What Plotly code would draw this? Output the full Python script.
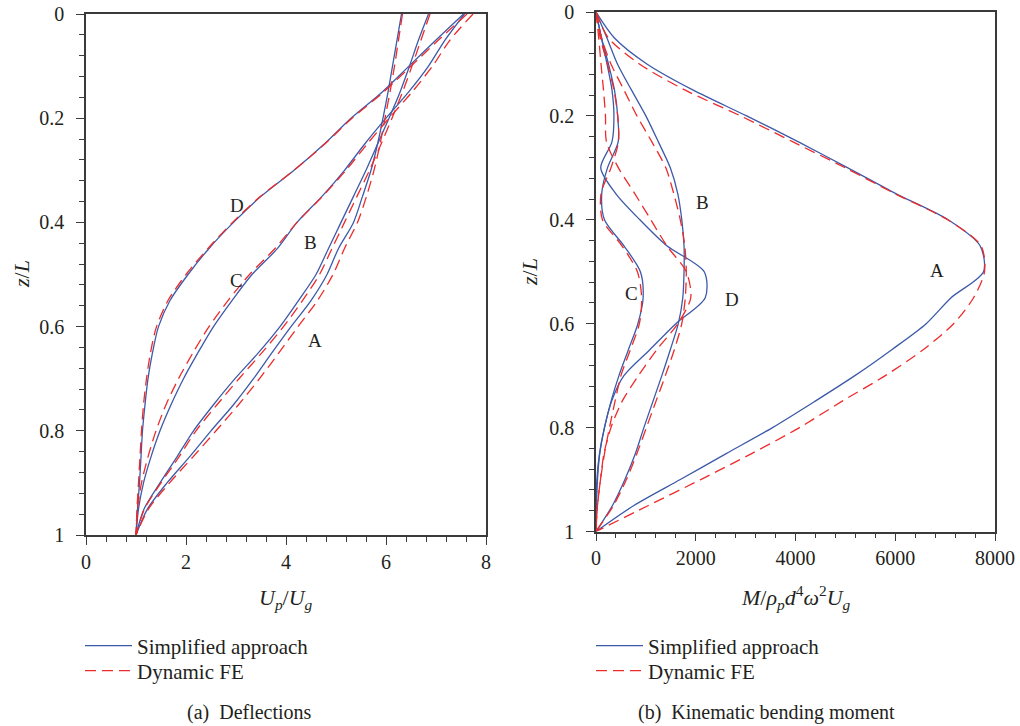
import plotly.graph_objects as go

# ---------------- data ----------------
z = [0.0, 0.05, 0.1, 0.15, 0.2, 0.25, 0.3, 0.35, 0.4, 0.45, 0.5,
     0.55, 0.6, 0.65, 0.7, 0.75, 0.8, 0.85, 0.9, 0.95, 1.0]

# (a) Deflections Up/Ug
defl_A_simplified = [6.31, 6.22, 6.13, 6.04, 5.94, 5.83, 5.70, 5.53, 5.35, 5.05, 4.82,
                     4.50, 4.10, 3.72, 3.35, 2.95, 2.50, 2.07, 1.62, 1.23, 1.00]
defl_A_fe = [6.33, 6.25, 6.17, 6.08, 5.98, 5.88, 5.76, 5.61, 5.43, 5.17, 4.94,
             4.63, 4.24, 3.86, 3.47, 3.05, 2.60, 2.14, 1.67, 1.25, 1.00]
defl_B_simplified = [6.85, 6.65, 6.47, 6.28, 6.06, 5.83, 5.60, 5.35, 5.10, 4.85, 4.60,
                     4.25, 3.88, 3.45, 2.98, 2.55, 2.15, 1.82, 1.48, 1.16, 1.00]
defl_B_fe = [6.88, 6.70, 6.52, 6.33, 6.12, 5.90, 5.67, 5.42, 5.17, 4.92, 4.67,
             4.33, 3.95, 3.52, 3.06, 2.62, 2.20, 1.86, 1.50, 1.17, 1.00]
defl_C_simplified = [7.57, 7.18, 6.85, 6.45, 6.00, 5.57, 5.17, 4.72, 4.22, 3.83, 3.32,
                     2.92, 2.55, 2.24, 1.95, 1.70, 1.48, 1.30, 1.15, 1.05, 1.00]
defl_C_fe = [7.74, 7.28, 6.93, 6.52, 6.06, 5.62, 5.20, 4.73, 4.22, 3.78, 3.27,
             2.84, 2.46, 2.14, 1.85, 1.60, 1.40, 1.24, 1.11, 1.03, 1.00]
defl_D_simplified = [7.55, 7.00, 6.46, 5.92, 5.30, 4.76, 4.16, 3.50, 2.95, 2.46, 2.04,
                     1.68, 1.45, 1.33, 1.24, 1.18, 1.13, 1.10, 1.07, 1.03, 1.00]
defl_D_fe = [7.62, 7.05, 6.50, 5.95, 5.32, 4.77, 4.16, 3.49, 2.93, 2.44, 2.00,
             1.64, 1.41, 1.29, 1.21, 1.15, 1.11, 1.08, 1.05, 1.02, 1.00]

# (b) Kinematic bending moment
mom_A_simplified = [0, 370, 1020, 1940, 3020, 4060, 5050, 6020, 7060, 7700, 7770,
                    7120, 6620, 5930, 5190, 4380, 3540, 2610, 1690, 760, 0]
mom_A_fe = [0, 250, 870, 1780, 2900, 3950, 5000, 6000, 7050, 7720, 7790,
            7570, 7170, 6560, 5800, 4920, 4080, 3120, 2100, 1050, 0]
mom_B_simplified = [0, 220, 430, 710, 1000, 1250, 1490, 1640, 1720, 1765, 1765,
                    1740, 1650, 1490, 1320, 1140, 960, 790, 580, 330, 0]
mom_B_fe = [0, 110, 300, 560, 820, 1120, 1400, 1560, 1690, 1780, 1810,
            1790, 1720, 1570, 1390, 1200, 1010, 820, 610, 350, 0]
mom_C_simplified = [0, 110, 250, 370, 435, 445, 230, 115, 170, 560, 890,
                    945, 840, 650, 460, 300, 170, 75, 30, 10, 0]
mom_C_fe = [0, 85, 230, 360, 435, 450, 300, 100, 130, 520, 830,
            915, 870, 690, 500, 380, 270, 170, 90, 30, 0]
mom_D_simplified = [0, 110, 220, 320, 360, 320, 95, 400, 880, 1420, 2170,
                    2190, 1600, 1080, 560, 310, 170, 70, 18, 5, 0]
mom_D_fe = [0, 55, 100, 150, 190, 210, 450, 780, 1100, 1420, 1810,
            1900, 1640, 1220, 850, 520, 300, 160, 90, 30, 0]

curve_labels = ["A", "B", "C", "D"]
defl_label_pos = [(4.58, 0.626), (4.48, 0.439), (3.01, 0.511), (3.01, 0.367)]
mom_label_pos = [(6830, 0.497), (2145, 0.366), (716, 0.541), (2720, 0.554)]

legend_names = ["Simplified approach", "Dynamic FE"]
captions = ["(a)  Deflections", "(b)  Kinematic bending moment"]

# ---------------- styling ----------------
W, H = 1020, 726
BLUE = "#3d5aa8"
RED = "#ee2b2b"
TXT = "#231f20"
SERIF = "Liberation Serif"
DASH = "11px,6px"

fig = go.Figure()

defl_sim = [defl_A_simplified, defl_B_simplified, defl_C_simplified, defl_D_simplified]
defl_fe = [defl_A_fe, defl_B_fe, defl_C_fe, defl_D_fe]
mom_sim = [mom_A_simplified, mom_B_simplified, mom_C_simplified, mom_D_simplified]
mom_fe = [mom_A_fe, mom_B_fe, mom_C_fe, mom_D_fe]

def add_set(sims, fes, xa, ya, leg_sim, leg_fe):
    for i, s in enumerate(sims):
        fig.add_trace(go.Scatter(
            x=s, y=z, mode="lines", xaxis=xa, yaxis=ya,
            line=dict(color=BLUE, width=1.3, shape="spline", smoothing=0.8),
            name=legend_names[0], legend=leg_sim, legendgroup=leg_sim,
            showlegend=(i == 0)))
    for i, f in enumerate(fes):
        fig.add_trace(go.Scatter(
            x=f, y=z, mode="lines", xaxis=xa, yaxis=ya,
            line=dict(color=RED, width=1.3, dash=DASH, shape="spline", smoothing=0.8),
            name=legend_names[1], legend=leg_fe, legendgroup=leg_fe,
            showlegend=(i == 0)))

add_set(defl_sim, defl_fe, "x", "y", "legend", "legend2")
add_set(mom_sim, mom_fe, "x2", "y2", "legend3", "legend4")

AXC = "#3a3a3a"

def xax(domain, rng, dtick, minor, anchor, fmt=None):
    d = dict(domain=domain, range=rng, dtick=dtick, tick0=0, anchor=anchor,
             showline=True, linecolor=AXC, linewidth=1.5, mirror=True,
             ticks="outside", ticklen=8, tickwidth=1.3, tickcolor=AXC,
             minor=dict(dtick=minor, tick0=0, ticks="outside", ticklen=5,
                        tickwidth=1.2, tickcolor=AXC, showgrid=False),
             showgrid=False, zeroline=False,
             tickfont=dict(family=SERIF, size=20, color=TXT),
             ticklabelstandoff=0, automargin=False, fixedrange=True)
    if fmt:
        d["tickformat"] = fmt
    return d

def yax(domain, anchor):
    return dict(domain=domain, range=[1, 0], dtick=0.2, tick0=0, anchor=anchor,
                showline=True, linecolor=AXC, linewidth=1.5, mirror=True,
                ticks="outside", ticklen=8, tickwidth=1.3, tickcolor=AXC,
                minor=dict(dtick=0.04, tick0=0, ticks="outside", ticklen=5,
                           tickwidth=1.2, tickcolor=AXC, showgrid=False),
                showgrid=False, zeroline=False,
                tickfont=dict(family=SERIF, size=20, color=TXT),
                ticklabelstandoff=8, automargin=False, fixedrange=True)

def leg(x_px, y_px):
    return dict(x=x_px / W, y=1 - y_px / H, xanchor="left", yanchor="middle",
                font=dict(family=SERIF, size=21, color=TXT),
                bgcolor="rgba(0,0,0,0)", tracegroupgap=0, itemwidth=47,
                borderwidth=0)

fig.update_layout(
    width=W, height=H, margin=dict(l=0, r=0, t=0, b=0),
    paper_bgcolor="white", plot_bgcolor="white",
    xaxis=xax([86 / W, 486 / W], [0, 8], 2, 0.4, "y"),
    yaxis=yax([1 - 535 / H, 1 - 14 / H], "x"),
    xaxis2=xax([596 / W, 995 / W], [0, 8000], 2000, 400, "y2", "d"),
    yaxis2=yax([1 - 531.5 / H, 1 - 12 / H], "x2"),
    legend=leg(80, 646),
    legend2=leg(80, 671),
    legend3=leg(591, 646),
    legend4=leg(591, 671),
    showlegend=True,
)

ann = []
for lab, (x, y) in zip(curve_labels, defl_label_pos):
    ann.append(dict(x=x, y=y, xref="x", yref="y", text=lab, showarrow=False,
                    xanchor="center", yanchor="middle",
                    font=dict(family=SERIF, size=19, color=TXT)))
for lab, (x, y) in zip(curve_labels, mom_label_pos):
    ann.append(dict(x=x, y=y, xref="x2", yref="y2", text=lab, showarrow=False,
                    xanchor="center", yanchor="middle",
                    font=dict(family=SERIF, size=19, color=TXT)))

title_font = dict(family=SERIF, size=22, color=TXT)

def paper_text(x_px, y_px, text, font, angle=0):
    return dict(x=x_px / W, y=1 - y_px / H, xref="paper", yref="paper",
                text=text, showarrow=False, xanchor="center", yanchor="middle",
                textangle=angle, font=font)

ann.append(paper_text(286, 599, "<i>U<sub>p</sub></i>/<i>U<sub>g</sub></i>", title_font))
ann.append(paper_text(796, 597,
                      "<i>M</i>/<i>ρ<sub>p</sub>d</i><sup>4</sup><i>ω</i><sup>2</sup><i>U<sub>g</sub></i>",
                      title_font))
ann.append(paper_text(22, 274, "<i>z</i>/<i>L</i>", title_font, -90))
ann.append(paper_text(529, 272, "<i>z</i>/<i>L</i>", title_font, -90))
cap_font = dict(family=SERIF, size=20, color=TXT)
ann.append(paper_text(249, 712, captions[0], cap_font))
ann.append(paper_text(766, 712, captions[1], cap_font))

fig.update_layout(annotations=ann)
fig.write_html("out.html")
